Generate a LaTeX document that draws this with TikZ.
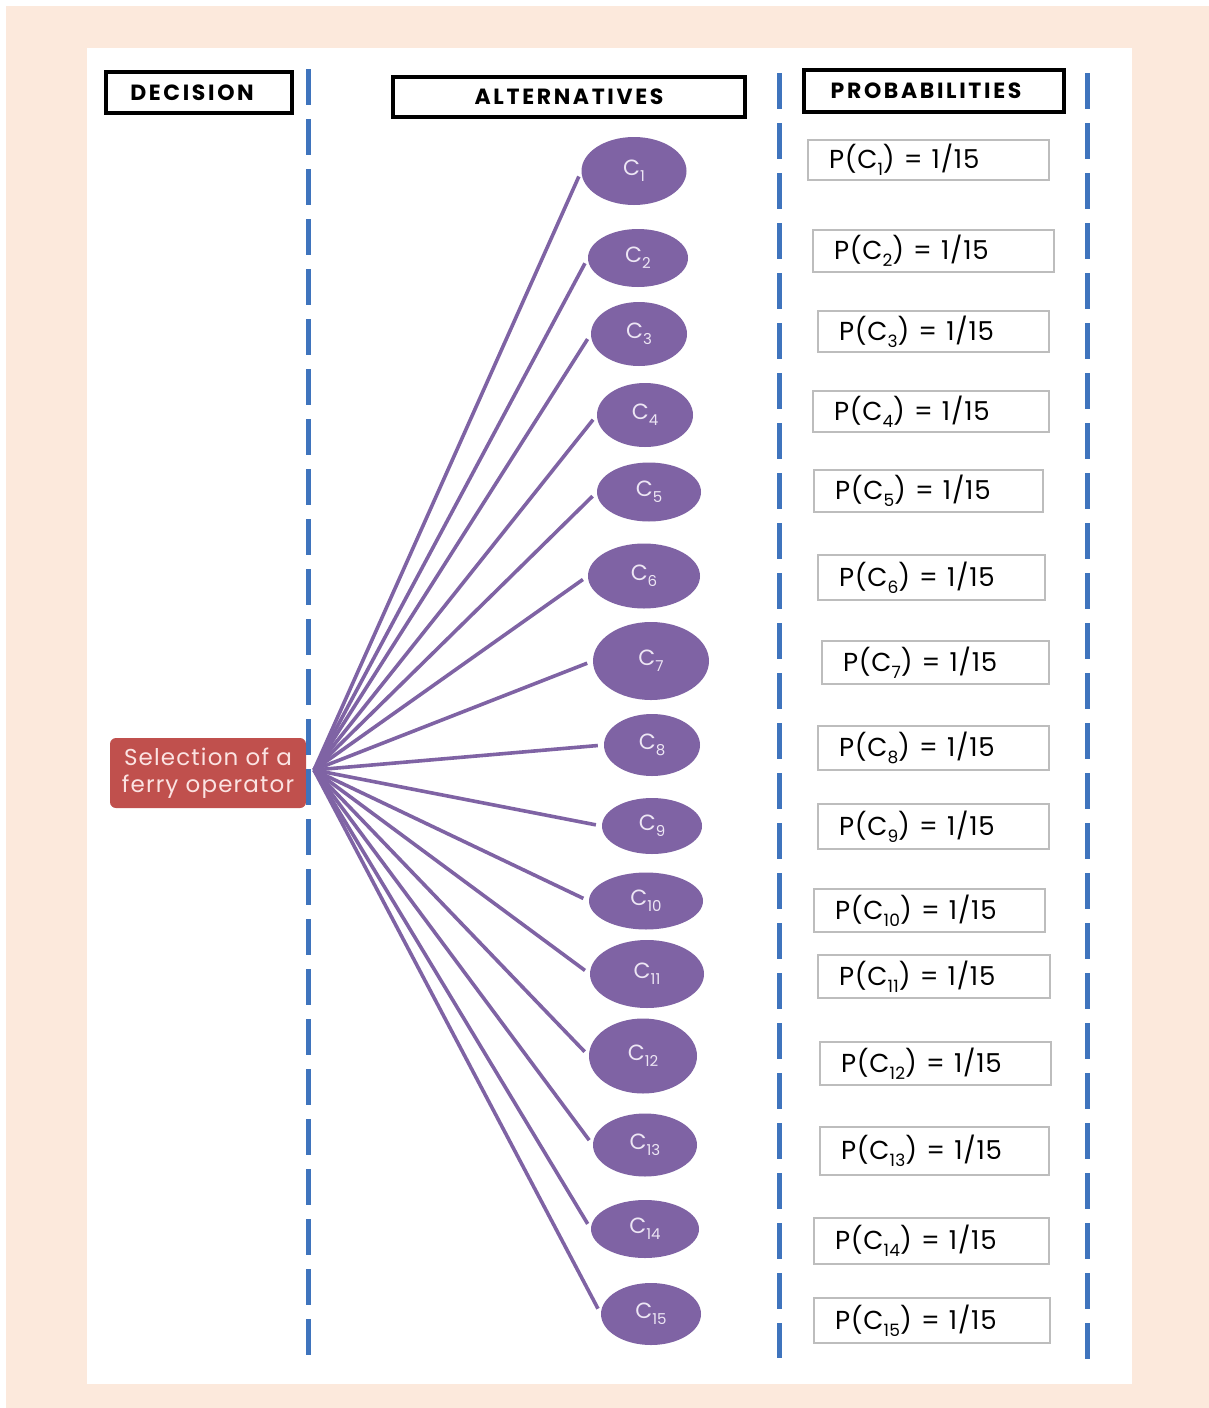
\documentclass[tikz,border=0pt]{standalone}
\usepackage{fontspec}
\setmainfont{Poppins}
\usetikzlibrary{shapes.geometric}
\definecolor{peach}{HTML}{FCE9DC}
\definecolor{divblue}{HTML}{3F74BD}
\definecolor{altpurple}{HTML}{7F63A4}
\definecolor{altlabel}{HTML}{EDE6F4}
\definecolor{decred}{HTML}{C0504D}
\definecolor{declabel}{HTML}{FBE3E2}
\definecolor{boxgray}{HTML}{BDBDBD}
% lowered index digits, size given in pt
\newcommand\lowidx[2]{\raisebox{-0.26em}{\fontsize{#1}{#1}\selectfont #2}}
\begin{document}
\begin{tikzpicture}[x=1pt,y=-1pt,
  divider/.style={divblue, line width=5pt, dash pattern=on 36pt off 14pt},
  headbox/.style={draw=black, line width=3.5pt, fill=white, inner sep=0pt,
    font=\bfseries\fontsize{22}{26}\selectfont\addfontfeatures{LetterSpace=12}},
  decbox/.style={fill=decred, rounded corners=6pt, inner sep=0pt,
    minimum width=196pt, minimum height=70pt, align=center, text=declabel,
    font=\fontsize{23}{27}\selectfont\addfontfeatures{LetterSpace=5}},
  altnode/.style={ellipse, fill=altpurple, inner sep=0pt, text=altlabel,
    font=\fontsize{22}{24}\selectfont},
  link/.style={altpurple, line width=3.6pt, shorten >=6pt},
  probbox/.style={draw=boxgray, line width=1.6pt, fill=white, inner xsep=21pt,
    inner ysep=0pt, align=left,
    font=\fontsize{26}{30}\selectfont\addfontfeatures{LetterSpace=3}}
]
\useasboundingbox (0,0) rectangle (1209,1408);
% page background and white panel
\fill[white] (0,0) rectangle (1209,1408);
\fill[peach] (6,6) rectangle (1209,1408);
\fill[white] (87,48) rectangle (1132,1384);

% column headings
\node[headbox, minimum width=186pt, minimum height=41pt] (hdec) at (199,92.5) {DECISION\hspace*{14pt}};
\node[headbox, minimum width=352pt, minimum height=40pt] (halt) at (569,97) {ALTERNATIVES};
\node[headbox, minimum width=260pt, minimum height=42pt] (hprob) at (934,91) {PROBABILITIES\hspace*{16pt}};

% decision
\node[decbox] (sel) at (208,773) {Selection of a\\ferry operator};

% column dividers
\draw[divider] (308,69) -- (308,1355);
\draw[divider] (779,73) -- (779,1358);
\draw[divider] (1087,73) -- (1087,1360);

% alternatives
\coordinate (hub) at (314,770);
\foreach \i/\cx/\cy/\w/\h in {1/634/171/105/68, 2/638/258/100/58, 3/639/334/96/64,
  4/645/415/96/64, 5/649/492/104/59, 6/644/576/112/65, 7/651/661/116/78,
  8/652/745/96/62, 9/652/826/100/56, 10/646/901/114/57, 11/647/974/114/68,
  12/643/1056/108/75, 13/645/1145/104/63, 14/645/1229/108/58, 15/651/1314/100/62}{
  \node[altnode, minimum width=\w pt, minimum height=\h pt] (c\i) at (\cx,\cy)
    {C\lowidx{15}{\i}};
  \draw[link] (hub) -- (c\i.west);
}

% probabilities
\foreach \i/\l/\t/\r/\b in {1/808/140/1049/180, 2/813/230/1054/272, 3/818/311/1049/352,
  4/813/391/1049/432, 5/814/470/1043/512, 6/818/555/1045/600, 7/822/641/1049/684,
  8/818/726/1049/770, 9/818/804/1049/849, 10/814/889/1045/932, 11/818/955/1050/998,
  12/820/1042/1051/1085, 13/820/1127/1049/1175, 14/814/1218/1049/1264,
  15/814/1298/1050/1343}{
  \pgfmathsetmacro\tw{\r-\l-42}
  \pgfmathsetmacro\bh{\b-\t}
  \node[probbox, text width=\tw pt, minimum height=\bh pt] (p\i)
    at ({(\l+\r)/2},{(\t+\b)/2})
    {P(C\lowidx{17}{\i})\hspace{0.35em}=\hspace{0.35em}1/15};
}
\end{tikzpicture}
\end{document}
